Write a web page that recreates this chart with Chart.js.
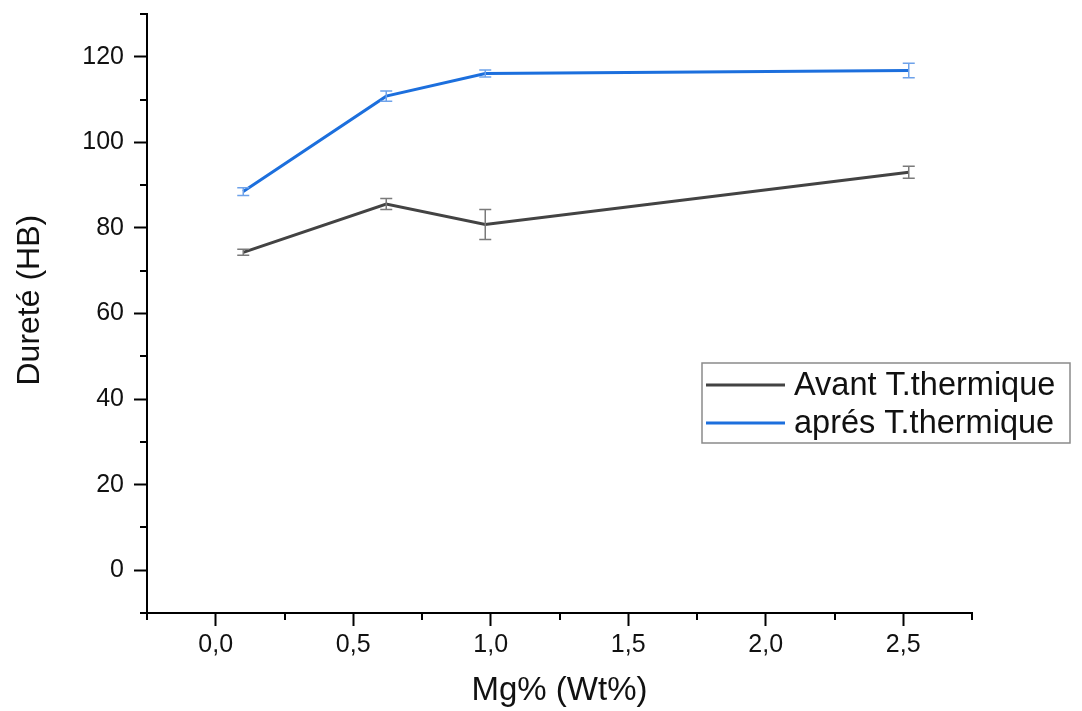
<!DOCTYPE html>
<html>
<head>
<meta charset="utf-8">
<script src="https://cdn.jsdelivr.net/npm/chart.js@4"></script>
<style>
  html, body { margin: 0; padding: 0; background: #fff; }
</style>
</head>
<body>
<canvas id="myChart" width="1082" height="711"></canvas>
<script>
// Data
const mgContent = [0.1, 0.62, 0.98, 2.52];
const avantValues = [74.3, 85.6, 80.8, 93.0];
const avantErrors = [0.7, 1.3, 3.5, 1.4];
const apresValues = [88.5, 110.8, 116.1, 116.8];
const apresErrors = [0.9, 1.2, 0.8, 1.7];
const seriesLabels = ['Avant T.thermique', 'aprés T.thermique'];
const xTickLabels = [0, 0.5, 1, 1.5, 2, 2.5];
const yTickLabels = [0, 20, 40, 60, 80, 100, 120];

const grayLine = '#434343';
const blueLine = '#1c6fdd';
const FONT = "'Liberation Sans', Arial, sans-serif";

function isMajor(list, v) {
    return list.some(t => Math.abs(t - v) < 1e-6);
}

// error bars drawn through the scales
const errorBars = {
    id: 'errorBars',
    afterDatasetsDraw(chart) {
        const ctx = chart.ctx;
        const xs = chart.scales.x, ys = chart.scales.y;
        chart.data.datasets.forEach(ds => {
            ctx.save();
            ctx.strokeStyle = ds.errColor;
            ctx.lineWidth = 1.5;
            ds.data.forEach((p, i) => {
                const px = xs.getPixelForValue(p.x);
                const top = ys.getPixelForValue(p.y + ds.errors[i]);
                const bot = ys.getPixelForValue(p.y - ds.errors[i]);
                ctx.beginPath();
                ctx.moveTo(px, top); ctx.lineTo(px, bot);
                ctx.moveTo(px - 6, top); ctx.lineTo(px + 6, top);
                ctx.moveTo(px - 6, bot); ctx.lineTo(px + 6, bot);
                ctx.stroke();
            });
            ctx.restore();
        });
    }
};

// short minor ticks on both axes
const minorTicks = {
    id: 'minorTicks',
    afterDraw(chart) {
        const ctx = chart.ctx;
        const xs = chart.scales.x, ys = chart.scales.y;
        const area = chart.chartArea;
        ctx.save();
        ctx.strokeStyle = '#000';
        ctx.lineWidth = 2;
        ctx.beginPath();
        xs.ticks.forEach(t => {
            if (isMajor(xTickLabels, t.value)) return;
            const px = Math.round(xs.getPixelForValue(t.value));
            ctx.moveTo(px, area.bottom); ctx.lineTo(px, area.bottom + 7);
        });
        ys.ticks.forEach(t => {
            if (isMajor(yTickLabels, t.value)) return;
            const py = Math.round(ys.getPixelForValue(t.value));
            ctx.moveTo(area.left, py); ctx.lineTo(area.left - 7, py);
        });
        ctx.stroke();
        ctx.restore();
    }
};

// boxed legend inside the plot
const boxLegend = {
    id: 'boxLegend',
    afterDraw(chart) {
        const ctx = chart.ctx;
        const bx = 702, by = 363, bw = 368, bh = 80;
        ctx.save();
        ctx.fillStyle = '#fff';
        ctx.fillRect(bx, by, bw, bh);
        ctx.strokeStyle = '#8a8a8a';
        ctx.lineWidth = 1.5;
        ctx.strokeRect(bx, by, bw, bh);
        ctx.font = '32.5px ' + FONT;
        ctx.textBaseline = 'middle';
        ctx.fillStyle = '#111';
        chart.data.datasets.forEach((ds, i) => {
            const cy = by + 22 + i * 38;
            ctx.strokeStyle = ds.borderColor;
            ctx.lineWidth = 3;
            ctx.beginPath();
            ctx.moveTo(bx + 4, cy); ctx.lineTo(bx + 83, cy);
            ctx.stroke();
            ctx.fillText(ds.label, bx + 92, cy + 1);
        });
        ctx.restore();
    }
};

const pts = (xs, ys) => xs.map((x, i) => ({ x: x, y: ys[i] }));

new Chart(document.getElementById('myChart'), {
    type: 'line',
    data: {
        datasets: [{
            label: seriesLabels[0],
            data: pts(mgContent, avantValues),
            errors: avantErrors,
            errColor: '#7a7a7a',
            borderColor: grayLine,
            borderWidth: 3,
            pointRadius: 0,
            tension: 0
        }, {
            label: seriesLabels[1],
            data: pts(mgContent, apresValues),
            errors: apresErrors,
            errColor: '#6ea2ea',
            borderColor: blueLine,
            borderWidth: 3,
            pointRadius: 0,
            tension: 0
        }]
    },
    options: {
        responsive: false,
        animation: false,
        layout: { padding: { top: 14, right: 110, left: 0, bottom: 0 } },
        plugins: { legend: { display: false }, tooltip: { enabled: false } },
        scales: {
            x: {
                type: 'linear',
                min: -0.25, max: 2.75,
                afterFit: s => { s.height = 98; },
                border: { color: '#000', width: 2 },
                grid: {
                    drawOnChartArea: false,
                    tickLength: 13,
                    tickWidth: 2,
                    tickColor: c => isMajor(xTickLabels, c.tick.value) ? '#000' : 'rgba(0,0,0,0)'
                },
                ticks: {
                    stepSize: 0.25,
                    autoSkip: false,
                    maxRotation: 0,
                    padding: 4,
                    color: '#111',
                    font: { family: FONT, size: 25, lineHeight: 1.2 },
                    callback: v => isMajor(xTickLabels, v) ? v.toFixed(1).replace('.', ',') : ''
                },
                title: {
                    display: true,
                    text: 'Mg% (Wt%)',
                    color: '#111',
                    font: { family: FONT, size: 33, lineHeight: 1.2 },
                    padding: { top: 0, bottom: 0 }
                }
            },
            y: {
                type: 'linear',
                min: -10, max: 130,
                afterFit: s => { s.width = 147; s.paddingTop = 0; s.paddingBottom = 0; },
                border: { color: '#000', width: 2 },
                grid: {
                    drawOnChartArea: false,
                    tickLength: 13,
                    tickWidth: 2,
                    tickColor: c => isMajor(yTickLabels, c.tick.value) ? '#000' : 'rgba(0,0,0,0)'
                },
                ticks: {
                    stepSize: 10,
                    autoSkip: false,
                    padding: 10,
                    color: '#111',
                    font: { family: FONT, size: 25, lineHeight: 1.2 },
                    callback: v => isMajor(yTickLabels, v) ? String(v) : ''
                },
                title: {
                    display: true,
                    text: '   Dureté (HB)',
                    color: '#111',
                    font: { family: FONT, size: 32, lineHeight: 1.2 },
                    padding: { top: 11, bottom: 0 }
                }
            }
        }
    },
    plugins: [errorBars, minorTicks, boxLegend]
});
</script>
</body>
</html>
